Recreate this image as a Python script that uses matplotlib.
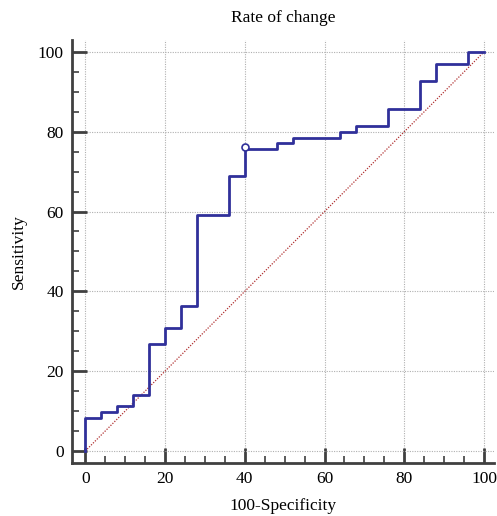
import matplotlib.pyplot as plt
from matplotlib.ticker import MultipleLocator

# ROC curve steps (100-Specificity, Sensitivity)
fpr = [0, 0, 4, 4, 8, 8, 12, 12, 16, 16, 20, 20, 24, 24, 28, 28, 36, 36, 40, 40,
       48, 48, 52, 52, 64, 64, 68, 68, 76, 76, 84, 84, 88, 88, 96, 96, 100]
tpr = [0, 8.4, 8.4, 9.8, 9.8, 11.3, 11.3, 14.1, 14.1, 26.7, 26.7, 30.7, 30.7, 36.3,
       36.3, 59.1, 59.1, 68.9, 68.9, 75.7, 75.7, 77.1, 77.1, 78.5, 78.5, 80.0, 80.0,
       81.5, 81.5, 85.6, 85.6, 92.7, 92.7, 96.9, 96.9, 100, 100]
crit_x, crit_y = 40, 76.1
ticks = [0, 20, 40, 60, 80, 100]

plt.rcParams['font.family'] = ['Liberation Serif', 'DejaVu Serif']

fig = plt.figure(figsize=(4.97, 5.16), dpi=100)
ax = fig.add_axes([0.145, 0.1027, 0.849, 0.82])

ax.plot([0, 100], [0, 100], color='#b03030', linestyle=(0, (1, 1.2)), linewidth=0.9, zorder=2)
ax.plot(fpr, tpr, color='#30309a', linewidth=2, zorder=3)
ax.plot([crit_x], [crit_y], marker='o', markersize=5, markerfacecolor='white',
        markeredgecolor='#30309a', markeredgewidth=1.2, zorder=4)

ax.set_xlim(-3.3, 102.5)
ax.set_ylim(-3, 103)
ax.set_xticks(ticks)
ax.set_yticks(ticks)
ax.xaxis.set_minor_locator(MultipleLocator(5))
ax.yaxis.set_minor_locator(MultipleLocator(5))
ax.grid(True, which='major', color='#b0b0b0', linestyle=(0, (1, 1.2)), linewidth=0.8)
ax.set_axisbelow(True)

for s in ['top', 'right']:
    ax.spines[s].set_visible(False)
for s in ['left', 'bottom']:
    ax.spines[s].set_linewidth(2)
    ax.spines[s].set_color('#404040')

ax.tick_params(which='major', direction='in', length=11, width=2, color='#404040',
               labelsize=12.5, pad=6)
ax.tick_params(which='minor', direction='in', length=5, width=1.2, color='#404040')

ax.set_title('Rate of change', fontsize=12.5, pad=13)
ax.set_xlabel('100-Specificity', fontsize=12.5, labelpad=8)
ax.set_ylabel('Sensitivity', fontsize=12.5, labelpad=8)

fig.savefig('out.png', dpi=100)
